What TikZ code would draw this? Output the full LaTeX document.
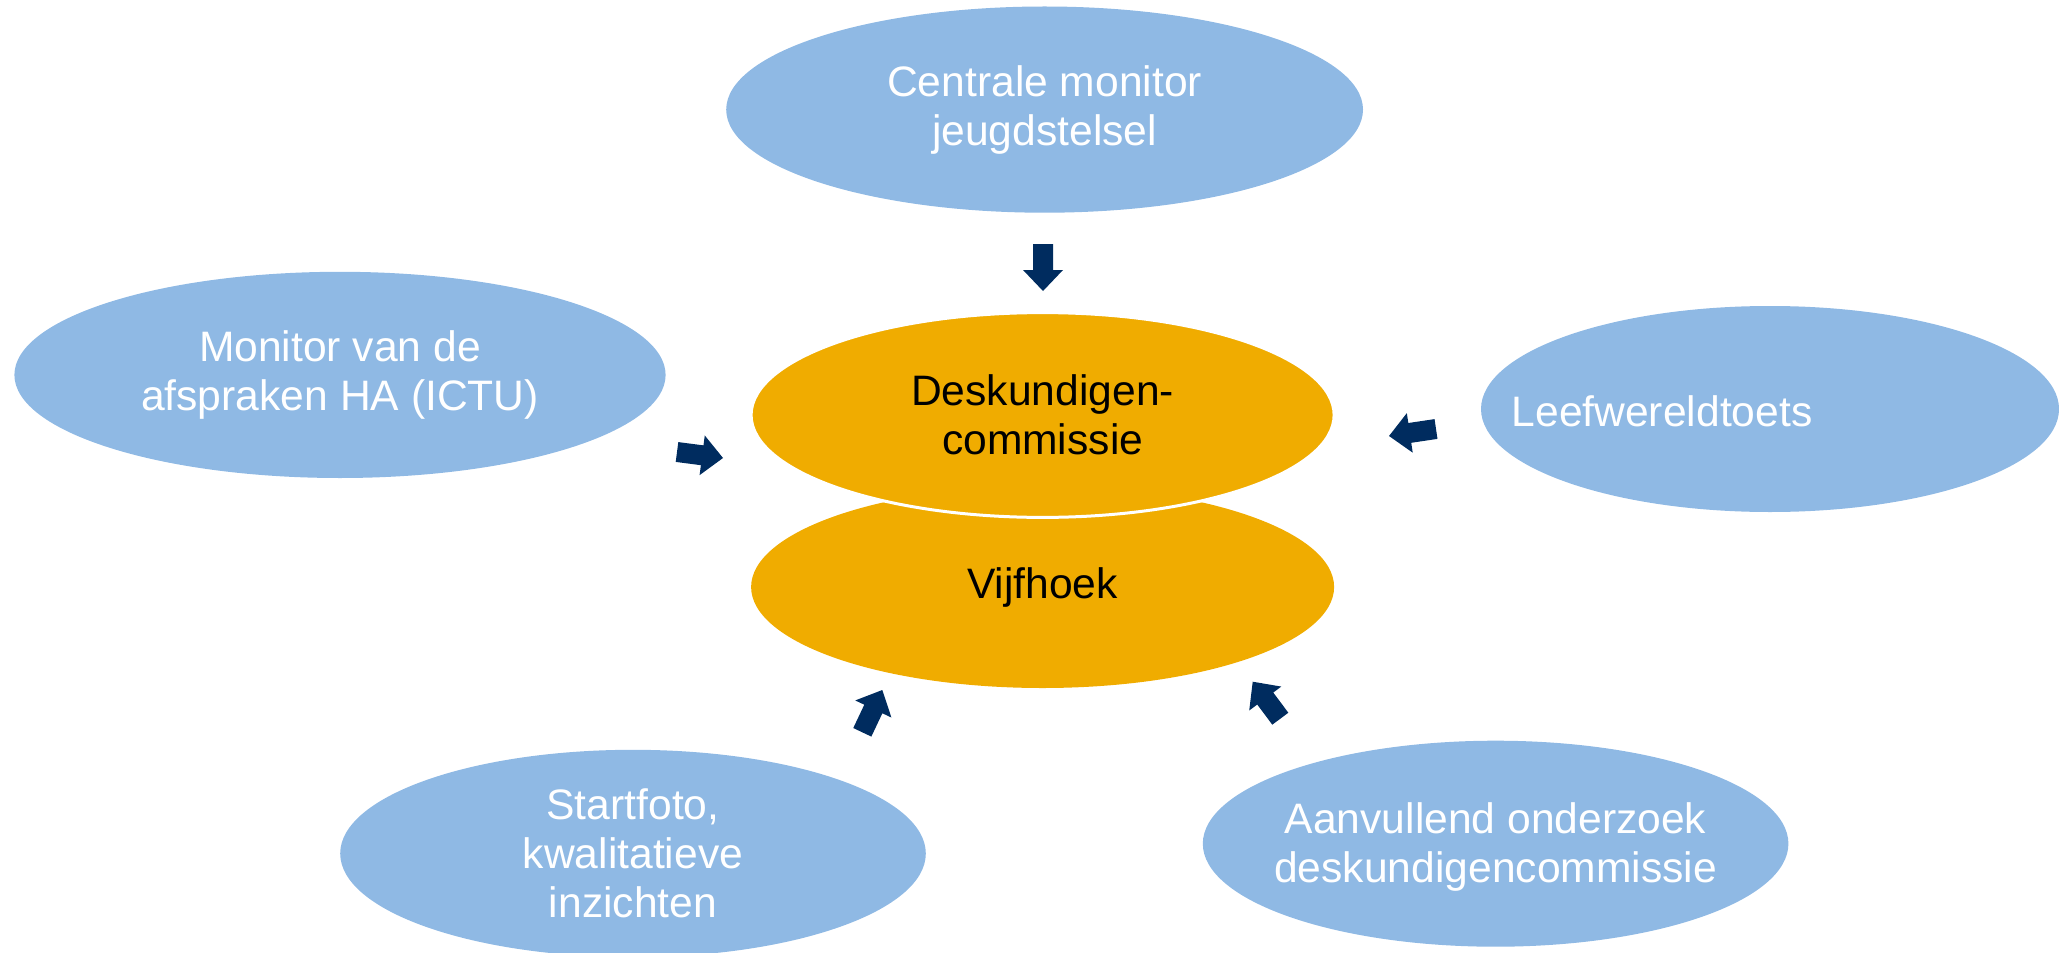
\documentclass[tikz,border=0pt]{standalone}
\usepackage{fontspec}
\setmainfont{Liberation Sans}
\usetikzlibrary{shapes.geometric,calc}
\definecolor{ovalblue}{HTML}{8FB9E4}
\definecolor{ovalorange}{HTML}{F0AC00}
\definecolor{navy}{HTML}{002C5F}
\newcommand{\blockarrow}[2]{%
  \coordinate (hb) at ($(#2)!10.5pt!(#1)$);
  \fill[navy] ($(#1)!5pt!90:(#2)$) -- ($(hb)!5pt!-90:(#1)$) -- ($(hb)!10pt!-90:(#1)$)
    -- (#2) -- ($(hb)!10pt!90:(#1)$) -- ($(hb)!5pt!90:(#1)$) -- ($(#1)!5pt!-90:(#2)$) -- cycle;
}
\tikzset{
  oval/.style={ellipse, inner sep=0pt},
  blueoval/.style={oval, fill=ovalblue},
  orangeoval/.style={oval, fill=ovalorange},
  ovaltext/.style={align=center, inner sep=0pt, font=\fontsize{21.3}{24.5}\selectfont},
  whitetext/.style={ovaltext, text=white},
  blacktext/.style={ovaltext, text=black},
}
\begin{document}
\begin{tikzpicture}[x=0.5pt,y=-0.5pt]
\useasboundingbox (0,0) rectangle (2059,952);
% ovals
\node[blueoval, minimum width=318.4pt, minimum height=103.1pt] (centrale) at (1044.6,109.6) {};
\node[whitetext] (centraletext) at (centrale.center) {Centrale monitor\\jeugdstelsel};
\node[blueoval, minimum width=325.6pt, minimum height=103.1pt] (monitor) at (340,374.9) {};
\node[whitetext] (monitortext) at (monitor.center) {Monitor van de\\afspraken HA (ICTU)};
\node[blueoval, minimum width=289pt, minimum height=103pt] (leef) at (1770,409) {};
\node[whitetext] (leeftext) at (1662,411) {Leefwereldtoets};
\node[blueoval, minimum width=292.8pt, minimum height=103.7pt] (start) at (633,853.5) {};
\node[whitetext] (starttext) at (start.center) {Startfoto,\\kwalitatieve\\inzichten};
\node[blueoval, minimum width=292.8pt, minimum height=103pt] (aanv) at (1495.6,843.7) {};
\node[whitetext] (aanvtext) at (1495.6,847) {Aanvullend onderzoek\\deskundigencommissie};
\node[orangeoval, minimum width=291.5pt, minimum height=101pt] (vijf) at (1042.6,587) {};
\node[blacktext] (vijftext) at (vijf.center) {Vijfhoek};
\node[orangeoval, draw=white, line width=1.5pt, minimum width=291.5pt, minimum height=102.4pt] (desk) at (1042.6,415) {};
\node[blacktext] (desktext) at (desk.center) {Deskundigen-\\commissie};
% arrows
\coordinate (a1t) at (1043,244); \coordinate (a1h) at (1043,291);
\coordinate (a2t) at (677,452); \coordinate (a2h) at (723,458);
\coordinate (a3t) at (1436,429); \coordinate (a3h) at (1389,436);
\coordinate (a4t) at (862.3,732.3); \coordinate (a4h) at (882.3,690);
\coordinate (a5t) at (1280.3,718.7); \coordinate (a5h) at (1252.7,681.7);
\blockarrow{a1t}{a1h}
\blockarrow{a2t}{a2h}
\blockarrow{a3t}{a3h}
\blockarrow{a4t}{a4h}
\blockarrow{a5t}{a5h}
\end{tikzpicture}
\end{document}
